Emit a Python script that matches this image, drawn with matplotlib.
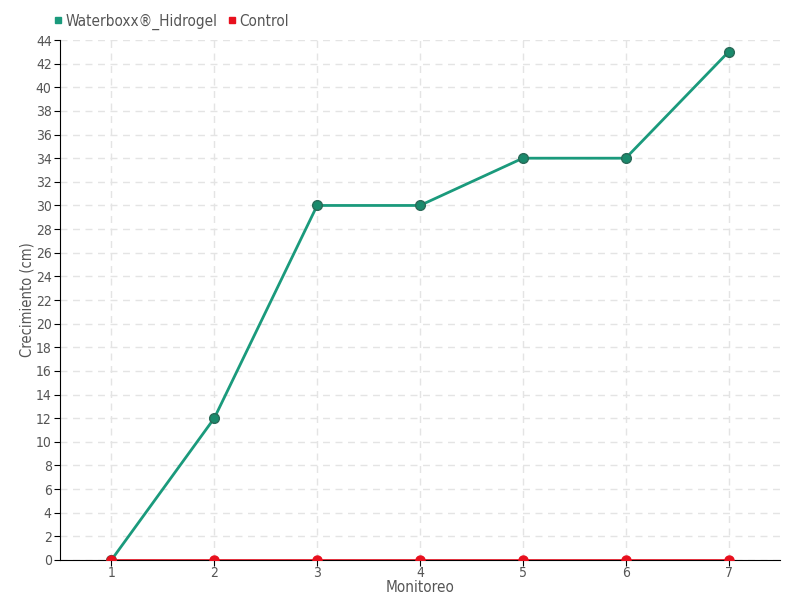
import matplotlib
matplotlib.use("Agg")
import matplotlib.pyplot as plt
from matplotlib.lines import Line2D

monitoreo = [1, 2, 3, 4, 5, 6, 7]
waterboxx = [0, 12, 30, 30, 34, 34, 43]
control = [0, 0, 0, 0, 0, 0, 0]

plt.rcParams['font.family'] = ['DejaVu Sans']
plt.rcParams['font.stretch'] = 'condensed'
txt = '#555555'

fig = plt.figure(figsize=(8, 6), dpi=100)
ax = fig.add_axes([0.075, 0.0667, 0.9, 0.8666])

ax.plot(monitoreo, waterboxx, color='#1a9a7c', lw=2, marker='o', ms=7,
        markerfacecolor='#1a8a6c', markeredgecolor='#2a6a58', zorder=3)
ax.plot(monitoreo, control, color='#e0101e', lw=1.2, marker='o', ms=6.5,
        markerfacecolor='#e8101e', markeredgecolor='#e8101e', zorder=4)

ax.set_xlim(0.5, 7.5)
ax.set_ylim(0, 44)
ax.set_xticks(monitoreo)
ax.set_yticks(range(0, 45, 2))
ax.grid(True, color='#e4e4e4', linestyle=(0, (5, 4)), lw=1)
ax.set_axisbelow(True)
for s in ['top', 'right']:
    ax.spines[s].set_visible(False)
ax.tick_params(colors=txt, labelsize=10, length=4, pad=2)
ax.tick_params(axis='both', color='black')
ax.tick_params(axis='x', pad=0)
ax.set_xlabel('Monitoreo', color=txt, fontsize=11, labelpad=0)
ax.set_ylabel('Crecimiento (cm)', color=txt, fontsize=10.5, labelpad=1)

handles = [Line2D([], [], ls='', marker='s', ms=5, color='#1a9a7c'),
           Line2D([], [], ls='', marker='s', ms=5, color='#e8101e')]
fig.legend(handles, ['Waterboxx®_Hidrogel', 'Control'], loc='upper left',
           bbox_to_anchor=(0.05, 1.0), ncol=2, frameon=False, fontsize=11,
           handlelength=0.6, handletextpad=0.2, columnspacing=0.6, labelcolor=txt)

fig.savefig('out.png', dpi=100)
